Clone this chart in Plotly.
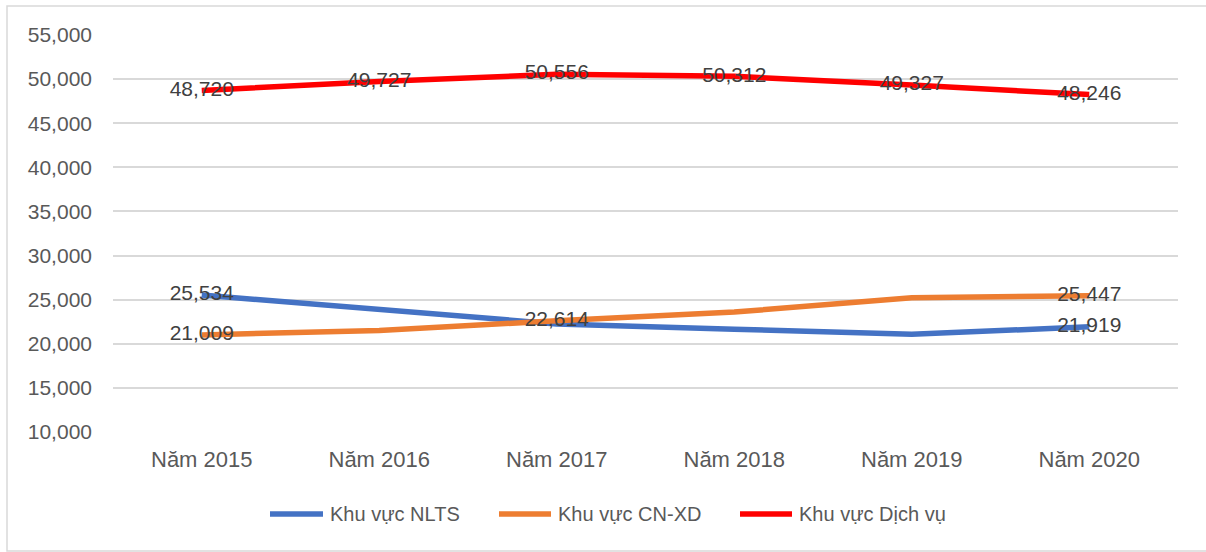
import plotly.graph_objects as go

# ---- data ----
years = ["Năm 2015", "Năm 2016", "Năm 2017", "Năm 2018", "Năm 2019", "Năm 2020"]
series_names = ["Khu vực NLTS", "Khu vực CN-XD", "Khu vực Dịch vụ"]
nlts = [25534, 23950, 22250, 21650, 21080, 21919]
cnxd = [21009, 21500, 22614, 23590, 25230, 25447]
dichvu = [48720, 49727, 50556, 50312, 49327, 48246]
# which points carry a data label
nlts_labeled = [True, False, False, False, False, True]
cnxd_labeled = [True, False, True, False, False, True]
dichvu_labeled = [True, True, True, True, True, True]
y_ticks = [10000, 15000, 20000, 25000, 30000, 35000, 40000, 45000, 50000, 55000]

colors = ["#4472C4", "#ED7D31", "#FF0000"]

W, H = 1206, 552
L, R, T, B = 113, 28, 35, 120
pw, ph = W - L - R, H - T - B


def px(x):
    return (x - L) / pw


def py(y):
    return (H - B - y) / ph


def labels(vals, flags):
    return [f"{v:,}" if f else "" for v, f in zip(vals, flags)]


fig = go.Figure()
for name, vals, flags, col in zip(series_names, [nlts, cnxd, dichvu],
                                  [nlts_labeled, cnxd_labeled, dichvu_labeled], colors):
    fig.add_trace(go.Scatter(
        x=years, y=vals, name=name, mode="lines+text",
        line=dict(color=col, width=5.5),
        text=labels(vals, flags), textposition="middle center",
        textfont=dict(family="Liberation Sans, Arial, sans-serif", size=21, color="#404040"),
        showlegend=False, cliponaxis=False,
    ))

font = "Liberation Sans, Arial, sans-serif"
fig.update_layout(
    width=W, height=H,
    margin=dict(l=L, r=R, t=T, b=B),
    paper_bgcolor="white", plot_bgcolor="white",
    font=dict(family=font, color="#595959"),
    xaxis=dict(range=[-0.5, 5.5], showgrid=False, zeroline=False, showline=False, ticks="",
               tickfont=dict(size=22, color="#595959"), ticklabelstandoff=12),
    yaxis=dict(range=[10000, 55000], tickvals=y_ticks, tickformat=",",
               showgrid=True, gridcolor="#D9D9D9", gridwidth=1.5, zeroline=False,
               showline=False, ticks="", tickfont=dict(size=21, color="#595959"),
               ticklabelstandoff=20),
)

# outer chart border (left, top, bottom visible)
fig.add_shape(type="rect", xref="paper", yref="paper",
              x0=px(7), x1=px(1240), y0=py(551), y1=py(6),
              line=dict(color="#D9D9D9", width=1.5), fillcolor="rgba(0,0,0,0)", layer="below")

# custom legend
leg_lines = [(268, 325), (497, 553), (738, 794)]
leg_y = 514
for (x0, x1), name, col in zip(leg_lines, series_names, colors):
    fig.add_shape(type="line", xref="paper", yref="paper",
                  x0=px(x0 + 2), x1=px(x1 - 2), y0=py(leg_y), y1=py(leg_y),
                  line=dict(color=col, width=5.5))
    fig.add_annotation(xref="paper", yref="paper", x=px(x1 + 3), y=py(leg_y),
                       text=name, showarrow=False, xanchor="left", yanchor="middle",
                       font=dict(family=font, size=20, color="#595959"))

fig.write_html("out.html", config={"displayModeBar": False},
               post_script="document.body.style.margin='0';document.body.style.overflow='hidden';")
